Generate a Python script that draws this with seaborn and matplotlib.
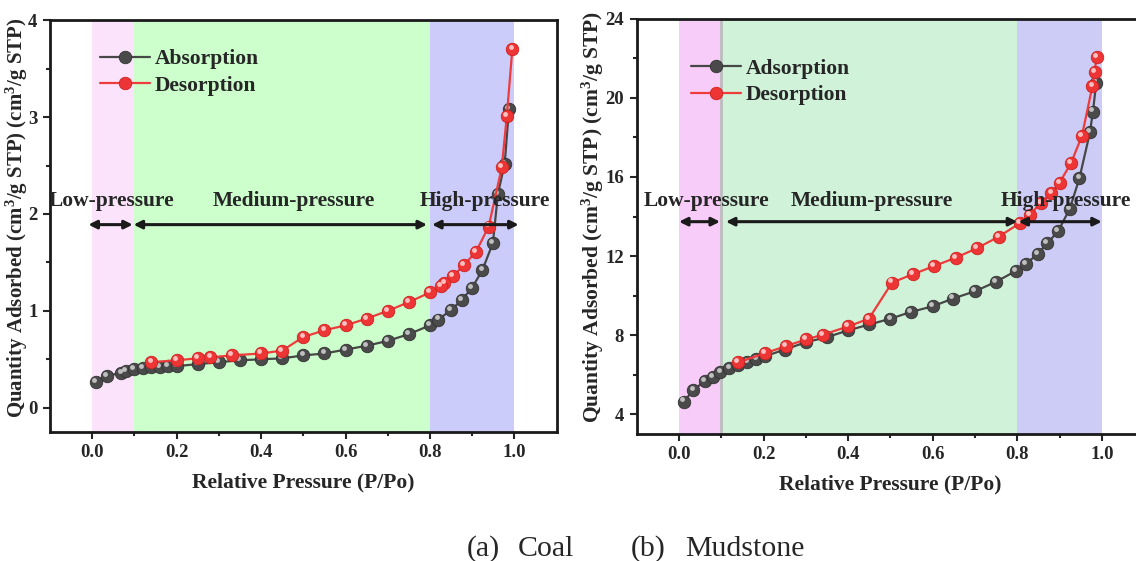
import numpy as np
import matplotlib
matplotlib.use('Agg')
import matplotlib.pyplot as plt
import matplotlib.transforms as mtransforms
from matplotlib.ticker import FixedLocator
import seaborn as sns

# ---- data ----
# (a) coal
coal_ads_p = [0.008, 0.035, 0.069, 0.079, 0.099, 0.12, 0.14, 0.16, 0.18, 0.20,
              0.25, 0.30, 0.35, 0.40, 0.45, 0.50, 0.55, 0.60, 0.65, 0.70,
              0.75, 0.80, 0.82, 0.85, 0.875, 0.90, 0.924, 0.949, 0.961, 0.977, 0.987]
coal_ads_q = [0.27, 0.33, 0.36, 0.38, 0.40, 0.41, 0.42, 0.42, 0.43, 0.43,
              0.45, 0.47, 0.49, 0.50, 0.51, 0.54, 0.56, 0.60, 0.64, 0.69,
              0.76, 0.85, 0.91, 1.01, 1.11, 1.24, 1.42, 1.70, 2.21, 2.52, 3.08]
coal_des_p = [0.995, 0.982, 0.970, 0.939, 0.909, 0.880, 0.855, 0.834, 0.826, 0.80,
              0.75, 0.70, 0.65, 0.60, 0.55, 0.50, 0.45, 0.40, 0.33, 0.28,
              0.25, 0.20, 0.14]
coal_des_q = [3.70, 3.01, 2.48, 1.87, 1.61, 1.47, 1.36, 1.29, 1.26, 1.19,
              1.09, 1.00, 0.92, 0.85, 0.80, 0.73, 0.59, 0.56, 0.54, 0.52,
              0.51, 0.49, 0.47]

# (b) mudstone
mud_ads_p = [0.012, 0.034, 0.061, 0.08, 0.098, 0.119, 0.14, 0.162, 0.183, 0.203,
             0.25, 0.30, 0.35, 0.40, 0.45, 0.50, 0.548, 0.60, 0.648, 0.70,
             0.749, 0.797, 0.82, 0.848, 0.871, 0.897, 0.924, 0.947, 0.972, 0.979, 0.987]
mud_ads_q = [4.64, 5.24, 5.66, 5.90, 6.12, 6.34, 6.51, 6.63, 6.80, 6.93,
             7.27, 7.64, 7.90, 8.24, 8.54, 8.83, 9.17, 9.46, 9.85, 10.22,
             10.69, 11.25, 11.59, 12.10, 12.64, 13.27, 14.38, 15.93, 18.26, 19.31, 20.78]
mud_des_p = [0.988, 0.983, 0.978, 0.953, 0.927, 0.90, 0.881, 0.856, 0.83, 0.806,
             0.756, 0.705, 0.655, 0.603, 0.553, 0.504, 0.449, 0.40, 0.34, 0.30,
             0.252, 0.203, 0.14]
mud_des_q = [22.09, 21.33, 20.61, 18.08, 16.69, 15.71, 15.20, 14.70, 14.08, 13.66,
             12.98, 12.40, 11.92, 11.49, 11.08, 10.66, 8.83, 8.44, 8.02, 7.78,
             7.44, 7.08, 6.63]

regions = [(0.0, 0.1), (0.1, 0.8), (0.8, 1.0)]
region_names = ['Low-pressure', 'Medium-pressure', 'High-pressure']

sns.set_theme(style='ticks')
plt.rcParams['font.family'] = ['Liberation Serif', 'DejaVu Serif']
plt.rcParams['font.weight'] = 'bold'
plt.rcParams['mathtext.default'] = 'regular'

GRAY = '#474747'
RED = '#EE3B3B'
FS = 15.5

fig = plt.figure(figsize=(11.36, 5.61), dpi=100)
ax1 = fig.add_axes([0.044, 0.230, 0.446, 0.734])
ax2 = fig.add_axes([0.5605, 0.2264, 0.4466, 0.740])


def draw_panel(ax, ads_p, ads_q, des_p, des_q, shades, ylim, yticks, yminor,
               arrow_y, text_y, text_x, spans, label_xy, label_fs, leg_anchor,
               ads_name, sep_line):
    for (a, b), c in zip(regions, shades):
        ax.axvspan(a, b, color=c, lw=0, zorder=0)
    if sep_line:
        ax.axvline(0.1, color='#BDBDBD', lw=2, zorder=0.5)

    sns.lineplot(x=ads_p, y=ads_q, ax=ax, sort=False, color=GRAY, lw=1.6,
                 marker='o', ms=9, mfc='#4a4a4a', mec='#333333', mew=0.6,
                 label=ads_name, zorder=3)
    sns.lineplot(x=des_p, y=des_q, ax=ax, sort=False, color=RED, lw=1.6,
                 marker='o', ms=9, mfc='#EE3535', mec='#D02020', mew=0.6,
                 label='Desorption', zorder=4)
    # sphere highlights
    off = mtransforms.offset_copy(ax.transData, fig=fig, x=-1.3, y=1.5, units='points')
    ax.plot(ads_p, ads_q, 'o', ms=3.5, mfc='#dddddd', mec='none', alpha=0.8,
            transform=off, zorder=3.5)
    ax.plot(des_p, des_q, 'o', ms=3.5, mfc='#ffd0d0', mec='none', alpha=0.9,
            transform=off, zorder=4.5)

    # pressure zone arrows and labels
    for (a, b), name, tx in zip(spans, region_names, text_x):
        ax.annotate('', xy=(b, arrow_y), xytext=(a, arrow_y),
                    arrowprops=dict(arrowstyle='<|-|>', color='k', lw=2.2,
                                    mutation_scale=12, shrinkA=0, shrinkB=0),
                    zorder=5)
        ax.text(tx, text_y, name, ha='center', va='center', fontsize=FS,
                fontweight='bold', zorder=5)

    ax.set_xlim(-0.1, 1.1)
    ax.set_ylim(*ylim)
    ax.set_xticks([0.0, 0.2, 0.4, 0.6, 0.8, 1.0])
    ax.set_xticklabels(['0.0', '0.2', '0.4', '0.6', '0.8', '1.0'])
    ax.xaxis.set_minor_locator(FixedLocator([0.1, 0.3, 0.5, 0.7, 0.9]))
    ax.set_yticks(yticks)
    ax.yaxis.set_minor_locator(FixedLocator(yminor))
    ax.tick_params(which='major', direction='out', length=5, width=1.5,
                   labelsize=13.5, pad=4)
    ax.tick_params(which='minor', direction='out', length=3, width=1.5)
    for lab in ax.get_xticklabels() + ax.get_yticklabels():
        lab.set_fontweight('bold')
    for s in ax.spines.values():
        s.set_linewidth(2)
        s.set_color('k')

    ax.set_xlabel('Relative Pressure (P/Po)', fontsize=FS, fontweight='bold', labelpad=8)
    ax.set_ylabel('Quantity Adsorbed (cm$^3$/g STP) (cm$^3$/g STP)',
                  fontsize=label_fs, fontweight='bold')
    ax.yaxis.set_label_coords(*label_xy)

    leg = ax.legend(loc='upper left', bbox_to_anchor=leg_anchor, frameon=False,
                    fontsize=FS, handlelength=2.3, handletextpad=0.25,
                    labelspacing=0.3, borderaxespad=0)
    for t in leg.get_texts():
        t.set_fontweight('bold')


draw_panel(ax1, coal_ads_p, coal_ads_q, coal_des_p, coal_des_q,
           ['#FBE3FB', '#CCFFCC', '#CCCCFA'], (-0.25, 4), [0, 1, 2, 3, 4],
           [0.5, 1.5, 2.5, 3.5], 1.89, 2.13, [0.046, 0.478, 0.929],
           [(-0.009, 0.096), (0.098, 0.793), (0.805, 1.01)],
           (-0.040, 0.52), 15, (0.082, 0.95), 'Absorption', False)
draw_panel(ax2, mud_ads_p, mud_ads_q, mud_des_p, mud_des_q,
           ['#F8CCF8', '#D0F2D9', '#CCCCF6'], (3, 24), [4, 8, 12, 16, 20, 24],
           [6, 10, 14, 18, 22], 13.74, 14.8, [0.066, 0.457, 0.916],
           [(0.0, 0.097), (0.111, 0.80), (0.803, 1.0)],
           (-0.060, 0.523), FS, (0.09, 0.925), 'Adsorption', True)

# caption below the two panels
cap_y = 1 - 549 / 561
for txt, xpix in [('(a)', 467), ('Coal', 518), ('(b)', 631), ('Mudstone', 685)]:
    fig.text(xpix / 1136, cap_y, txt, ha='left', va='center',
             fontsize=21.5, fontweight='normal')

fig.savefig('out.png', dpi=100)
